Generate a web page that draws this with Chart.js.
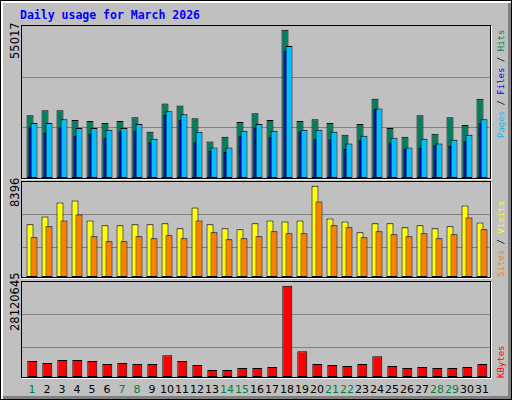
<!DOCTYPE html>
<html><head><meta charset="utf-8">
<script src="https://cdn.jsdelivr.net/npm/chart.js@4"></script>
<style>
body{margin:0;background:#fff}
#root{position:absolute;left:0;top:0;width:510px;height:398px;background:#c0c0c0;border:1px solid #000;box-shadow:inset 2px 2px 0 #fff,inset -3px -3px 0 #808080}
.panel{position:absolute;left:20px;width:470px;border:1px solid #000;box-shadow:1px 1px 0 #fff;box-sizing:border-box}
.panel canvas{position:absolute;left:0;top:0}
.vt{position:absolute;transform-origin:0 0;transform:rotate(-90deg);white-space:nowrap;font-family:"DejaVu Sans Mono",monospace;font-size:9px;line-height:10px}
.lt{position:absolute;transform-origin:0 0;transform:rotate(-90deg);white-space:nowrap;font-family:"DejaVu Sans",sans-serif;font-size:11.5px;line-height:12px;color:#000}
.day{position:absolute;top:382px;font-family:"DejaVu Sans",sans-serif;font-size:11px;transform:translateX(-50%)}
#title{position:absolute;left:19px;top:7px;font-family:"DejaVu Sans Mono",monospace;font-weight:bold;font-size:11.5px;color:#0000ff}
</style></head><body>
<div id="root">
<div id="title">Daily usage for March 2026</div>
<div class="panel" style="top:24px;height:154px"><canvas id="c1"></canvas></div>
<div class="panel" style="top:180px;height:97px"><canvas id="c2"></canvas></div>
<div class="panel" style="top:280px;height:97px"><canvas id="c3"></canvas></div>
<div class="lt" style="left:8px;top:58px">55017</div>
<div class="lt" style="left:8px;top:206px">8396</div>
<div class="lt" style="left:8px;top:330px">28120645</div>
<div class="vt" style="left:495px;top:137px"><span style="color:#00c0ff">Pages</span><span style="color:#000"> / </span><span style="color:#0000ff">Files</span><span style="color:#000"> / </span><span style="color:#008040">Hits</span></div>
<div class="vt" style="left:495px;top:276px"><span style="color:#ff8000">Sites</span><span style="color:#000"> / </span><span style="color:#ffff00">Visits</span></div>
<div class="vt" style="left:495px;top:377px"><span style="color:#ff0000">KBytes</span></div>
<div id="days"></div>
</div>
<script>
const days=[1,2,3,4,5,6,7,8,9,10,11,12,13,14,15,16,17,18,19,20,21,22,23,24,25,26,27,28,29,30,31];
const weekend=[1,7,8,14,15,21,22,28,29];
const hits=[23289,25100,25100,21480,21117,20393,21117,22565,17135,27633,26909,22203,13515,15325,20755,24013,21480,55017,21117,21841,20393,16049,20031,29443,18583,15325,23289,16411,22565,19669,29443];
const files=[20393,20393,21841,18583,18583,17859,18583,20031,14601,24737,23651,17135,11343,11343,17497,20031,17497,48991,17859,17859,17135,12791,15687,25823,14963,11343,14601,12791,14239,16049,21841];
const pages=[18709,16898,18709,15691,16536,14725,17260,17622,13277,23416,21605,13277,10018,9656,15450,18709,15088,47314,17260,14363,14363,10742,14001,25588,12915,10742,11104,12191,11829,13639,20519];
const visits=[4837,5567,6845,7027,5202,4746,4746,4837,4837,4928,4472,6388,4837,4472,4380,4928,5202,5111,5202,8396,5384,5111,4107,4928,4928,4563,4746,4472,4654,6571,5019];
const sites=[3650,4654,5202,5749,3742,3285,3285,3742,3559,3833,3559,5202,4107,3468,3559,3742,4198,4015,4015,6936,4746,4563,3650,4198,3924,3742,4015,3559,3924,5476,4380];
const kbytes=[4890528,4279212,5196186,5196186,4890528,3973554,4279212,3973554,3973554,6724476,4890528,3667896,2139606,2139606,2750922,2750922,3056580,28120645,7947108,3973554,3667896,3362238,3973554,6418818,3362238,2750922,3056580,2750922,2750922,3056580,3973554];

const XMIN=1-8/15, XMAX=XMIN+468/15;
const pts=(arr,off)=>arr.map((v,i)=>({x:days[i]+off,y:v}));
const ds=(arr,off,color,w,order)=>({data:pts(arr,off),backgroundColor:color,borderColor:'#000',borderWidth:1,borderSkipped:false,inflateAmount:0,barThickness:w,grouped:false,order:order});
const grid={id:'g',beforeDatasetsDraw(c,a,o){const y=c.scales.y,ctx=c.ctx;ctx.save();ctx.strokeStyle='#808080';ctx.lineWidth=1;
 for(const f of o.fr){const p=Math.round(y.getPixelForValue(y.max*f))+0.5;ctx.beginPath();ctx.moveTo(c.chartArea.left,p);ctx.lineTo(c.chartArea.right,p);ctx.stroke();}ctx.restore();}};
function mk(id,w,h,datasets,ymax,fr){
 const cv=document.getElementById(id);cv.width=w;cv.height=h;cv.style.width=w+'px';cv.style.height=h+'px';
 return new Chart(cv,{type:'bar',data:{datasets},plugins:[grid],options:{responsive:false,animation:false,devicePixelRatio:1,
  layout:{padding:0},plugins:{legend:{display:false},tooltip:{enabled:false},g:{fr}},
  scales:{x:{type:'linear',min:XMIN,max:XMAX,offset:false,display:false},y:{min:0,max:ymax,display:false}}}});
}
mk('c1',468,152,[ds(hits,0,'#008060',7,3),ds(pages,0.03,'#0000e0',4,2),ds(files,0.267,'#00c0ff',7,1)],56400,[1/3,2/3]);
mk('c2',468,95,[ds(visits,0,'#ffff00',7,2),ds(sites,0.267,'#ff8000',7,1)],8730,[0.314,0.659]);
const c3=mk('c3',468,95,[ds(kbytes,0.153,'#ff0000',10,1)],29240000,[0.314,0.659]);
const dd=document.getElementById('days');
days.forEach(d=>{const e=document.createElement('div');e.className='day';e.textContent=d;
 e.style.left=(21+c3.scales.x.getPixelForValue(d+0.13))+'px';e.style.color=weekend.includes(d)?'#008040':'#000';dd.appendChild(e);});
</script></body></html>
